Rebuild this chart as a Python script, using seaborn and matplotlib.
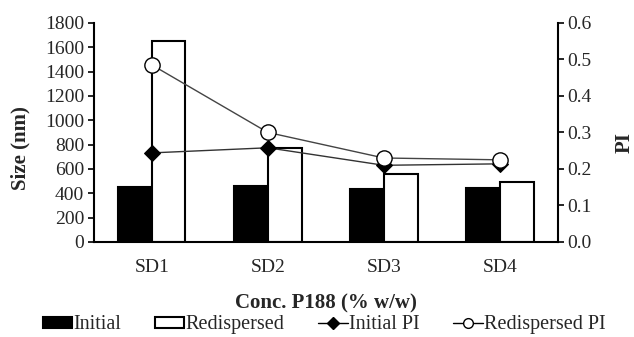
import matplotlib
matplotlib.use("Agg")
import matplotlib.pyplot as plt
import seaborn as sns
import pandas as pd
from matplotlib.patches import Patch
from matplotlib.lines import Line2D

categories = ["SD1", "SD2", "SD3", "SD4"]
size_initial = [452, 463, 433, 441]
size_redispersed = [1655, 775, 556, 496]
pi_initial = [0.244, 0.258, 0.21, 0.214]
pi_redispersed = [0.485, 0.30, 0.23, 0.225]

sns.set_theme(style="white")
plt.rcParams["font.family"] = ["Liberation Serif", "DejaVu Serif"]
plt.rcParams["font.size"] = 14

df = pd.DataFrame({
    "cat": categories * 2,
    "size": size_initial + size_redispersed,
    "type": ["Initial"] * 4 + ["Redispersed"] * 4,
})

fig = plt.figure(figsize=(6.34, 3.37), dpi=100)
ax = fig.add_axes([0.148, 0.282, 0.732, 0.650])
sns.barplot(data=df, x="cat", y="size", hue="type", palette=["black", "white"],
            edgecolor="black", linewidth=1.5, width=0.58, ax=ax, legend=False)
ax.set_ylim(0, 1800)
ax.set_yticks(range(0, 1801, 200))
ax.set_xlim(-0.5, 3.5)
ax.set_xlabel("Conc. P188 (% w/w)", fontsize=15, fontweight="bold", labelpad=13)
ax.set_ylabel("Size (nm)", fontsize=15, fontweight="bold")
ax.yaxis.set_label_coords(-0.136, 0.43)
ax.tick_params(axis="x", which="major", length=0, labelsize=14, pad=12)
ax.set_xticks([0.5, 1.5, 2.5], minor=True)
ax.tick_params(axis="x", which="minor", length=5, width=1.2, direction="out", color="black")
ax.tick_params(axis="y", length=4, width=1.2, direction="out", color="black", labelsize=14, left=True, pad=3)
for s in ["top", "right"]:
    ax.spines[s].set_visible(False)
for s in ["left", "bottom"]:
    ax.spines[s].set_color("black")
    ax.spines[s].set_linewidth(1.5)

ax2 = ax.twinx()
sns.lineplot(x=categories, y=pi_initial, ax=ax2, color="#333333", linewidth=1,
             marker="D", markersize=8, markerfacecolor="black", markeredgecolor="black")
sns.lineplot(x=categories, y=pi_redispersed, ax=ax2, color="#444444", linewidth=1,
             marker="o", markersize=11, markerfacecolor="white", markeredgecolor="black",
             markeredgewidth=1)
ax2.set_ylim(0, 0.6)
ax2.set_xlim(-0.5, 3.5)
ax2.set_yticks([0.0, 0.1, 0.2, 0.3, 0.4, 0.5, 0.6])
ax2.set_yticklabels([f"{v:.1f}" for v in [0.0, 0.1, 0.2, 0.3, 0.4, 0.5, 0.6]])
ax2.set_ylabel("PI", fontsize=15, fontweight="bold")
ax2.yaxis.set_label_coords(1.122, 0.455)
ax2.tick_params(axis="y", length=4, width=1.2, direction="out", color="black", labelsize=14, right=True, pad=3)
for s in ["top", "left", "bottom"]:
    ax2.spines[s].set_visible(False)
ax2.spines["right"].set_color("black")
ax2.spines["right"].set_linewidth(1.5)

handles = [
    Patch(facecolor="black", edgecolor="black", linewidth=1.5, label="Initial"),
    Patch(facecolor="white", edgecolor="black", linewidth=1.5, label="Redispersed"),
    Line2D([], [], color="black", linewidth=1, marker="D", markersize=6,
           markerfacecolor="black", label="Initial PI"),
    Line2D([], [], color="black", linewidth=1, marker="o", markersize=7,
           markerfacecolor="white", markeredgecolor="black", label="Redispersed PI"),
]
fig.legend(handles=handles, loc="center", bbox_to_anchor=(0.511, 0.036), ncol=4,
           frameon=False, fontsize=14.5, handlelength=1.45, handletextpad=0.05,
           columnspacing=1.7, handleheight=0.45)

fig.savefig("out.png", dpi=100)
